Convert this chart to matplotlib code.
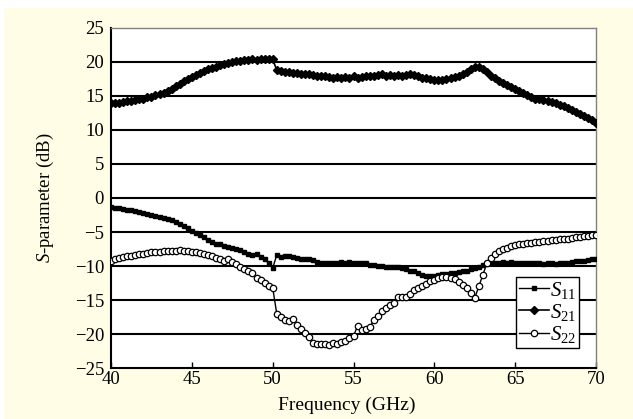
import numpy as np
import matplotlib
matplotlib.use('Agg')
import matplotlib.pyplot as plt
from matplotlib.patches import Rectangle

plt.rcParams['font.family'] = 'Liberation Serif'
plt.rcParams['mathtext.fontset'] = 'custom'
plt.rcParams['mathtext.rm'] = 'Liberation Serif'
plt.rcParams['mathtext.it'] = 'Liberation Serif:italic'

# frequency grid of the measurement (GHz), one point every 0.25 GHz
freq = np.arange(40.0, 70.001, 0.25)

s11 = [-1.3, -1.4, -1.5, -1.6, -1.7, -1.8, -1.9, -2.0, -2.2, -2.3,
       -2.5, -2.6, -2.8, -3.0, -3.1, -3.3, -3.5, -3.8, -4.1, -4.4,
       -4.8, -5.2, -5.5, -5.8, -6.2, -6.5, -6.7, -6.8, -7.0, -7.2,
       -7.3, -7.5, -7.7, -7.9, -8.2, -8.4, -8.3, -8.7, -9.0, -9.6,
       -10.3, -8.4, -8.7, -8.6, -8.6, -8.7, -8.8, -8.9, -8.9, -9.0,
       -9.1, -9.4, -9.5, -9.5, -9.6, -9.5, -9.5, -9.4, -9.5, -9.4,
       -9.5, -9.5, -9.6, -9.6, -9.8, -9.9, -10.0, -10.0, -10.1, -10.2,
       -10.2, -10.2, -10.3, -10.5, -10.7, -10.8, -11.0, -11.3, -11.4, -11.5,
       -11.4, -11.3, -11.2, -11.2, -11.1, -11.0, -10.9, -10.8, -10.7, -10.5,
       -10.3, -10.1, -9.9, -9.6, -9.5, -9.6, -9.5, -9.4, -9.5, -9.4,
       -9.5, -9.6, -9.5, -9.5, -9.6, -9.5, -9.6, -9.7, -9.6, -9.6,
       -9.7, -9.6, -9.5, -9.5, -9.4, -9.3, -9.3, -9.2, -9.1, -9.0,
       -8.9]

s21 = [13.9, 13.9, 14.0, 14.1, 14.2, 14.3, 14.4, 14.5, 14.6, 14.8,
       14.9, 15.1, 15.3, 15.5, 15.7, 16.0, 16.4, 16.8, 17.2, 17.5,
       17.8, 18.1, 18.4, 18.7, 18.9, 19.1, 19.3, 19.5, 19.7, 19.8,
       20.0, 20.2, 20.2, 20.3, 20.3, 20.4, 20.3, 20.4, 20.5, 20.5,
       20.4, 18.8, 18.7, 18.6, 18.5, 18.4, 18.4, 18.3, 18.2, 18.2,
       18.1, 18.0, 17.9, 17.9, 17.8, 17.7, 17.8, 17.6, 17.8, 17.7,
       17.9, 17.7, 17.8, 17.9, 17.9, 18.0, 18.1, 18.3, 18.0, 18.1,
       18.0, 18.1, 18.0, 18.1, 18.2, 18.1, 17.9, 17.7, 17.6, 17.5,
       17.4, 17.3, 17.4, 17.5, 17.6, 17.8, 18.0, 18.3, 18.6, 18.9,
       19.2, 19.2, 18.9, 18.5, 18.0, 17.6, 17.2, 16.9, 16.6, 16.3,
       16.0, 15.7, 15.4, 15.1, 14.8, 14.6, 14.5, 14.4, 14.3, 14.1,
       13.9, 13.7, 13.5, 13.2, 13.0, 12.7, 12.4, 12.1, 11.8, 11.4,
       11.0]

s22 = [-9.2, -9.0, -8.8, -8.7, -8.6, -8.5, -8.4, -8.3, -8.2, -8.1,
       -8.0, -7.9, -7.9, -7.8, -7.8, -7.8, -7.8, -7.7, -7.8, -7.8,
       -7.9, -8.0, -8.1, -8.2, -8.4, -8.5, -8.8, -8.9, -9.2, -9.0,
       -9.4, -9.7, -10.2, -10.4, -10.7, -11.1, -11.7, -12.0, -12.5, -13.0,
       -13.2, -17.0, -17.5, -17.9, -18.1, -17.8, -18.7, -19.3, -19.9, -20.5,
       -21.3, -21.4, -21.4, -21.5, -21.6, -21.3, -21.5, -21.2, -21.0, -20.6,
       -20.3, -18.8, -19.4, -19.3, -19.0, -18.0, -17.4, -16.6, -16.2, -15.8,
       -15.5, -14.6, -14.5, -14.6, -14.1, -13.5, -13.2, -12.9, -12.6, -12.2,
       -12.0, -11.8, -11.6, -11.6, -11.7, -11.9, -12.4, -12.8, -13.3, -13.9,
       -14.7, -13.0, -11.3, -9.6, -8.8, -8.2, -7.8, -7.5, -7.3, -7.1,
       -6.9, -6.8, -6.7, -6.6, -6.6, -6.5, -6.4, -6.3, -6.3, -6.2,
       -6.2, -6.1, -6.0, -6.0, -5.9, -5.8, -5.7, -5.6, -5.6, -5.5,
       -5.4]

xticks = [40, 45, 50, 55, 60, 65, 70]
yticks = [-25, -20, -15, -10, -5, 0, 5, 10, 15, 20, 25]

fig = plt.figure(figsize=(6.33, 4.19), dpi=100, facecolor='white')
# pale yellow panel behind the chart
fig.patches.append(Rectangle((4 / 633, 0), 1, 411 / 419, transform=fig.transFigure,
                             facecolor='#FFFDE6', edgecolor='none', zorder=-10))

ax = fig.add_axes([0.1754, 0.1217, 0.7662, 0.8115])
ax.set_facecolor('white')

ax.plot(freq, s11, color='black', lw=1, marker='s', ms=3.3, mfc='black', mec='black',
        label=r'$S_{\mathrm{11}}$', zorder=3)
ax.plot(freq, s21, color='black', lw=1.2, marker='D', ms=3.6, mfc='black', mec='black',
        label=r'$S_{\mathrm{21}}$', zorder=3)
ax.plot(freq, s22, color='black', lw=1, marker='o', ms=4.6, mfc='white', mec='black',
        mew=0.9, label=r'$S_{\mathrm{22}}$', zorder=4)

ax.set_xlim(40, 70)
ax.set_ylim(-25, 25)
ax.set_xticks(xticks)
ax.set_yticks(yticks)
for y in yticks[1:-1]:
    ax.axhline(y, color='black', lw=1.5, zorder=1)

ax.tick_params(axis='x', direction='in', length=4, width=1, labelsize=13.5, pad=2)
ax.tick_params(axis='y', length=0, labelsize=13.5, pad=5)
for side in ['top', 'right']:
    ax.spines[side].set_color('#808080')
    ax.spines[side].set_linewidth(1)
for side in ['left', 'bottom']:
    ax.spines[side].set_color('black')
    ax.spines[side].set_linewidth(1.5)

ax.set_xlabel('Frequency (GHz)', fontsize=14)
ax.xaxis.set_label_coords(0.485, -0.085)
ax.set_ylabel(r'$S$-parameter (dB)', fontsize=13.5)
ax.yaxis.set_label_coords(-0.113, 0.5)

leg = ax.legend(loc='lower right', bbox_to_anchor=(0.965, 0.059), fontsize=15,
                frameon=True, fancybox=False, framealpha=1, edgecolor='black',
                handlelength=1.4, handletextpad=0.05, borderpad=0.15, labelspacing=0.05,
                borderaxespad=0)
leg.get_frame().set_linewidth(1)
leg.set_zorder(5)

fig.savefig('out.png', dpi=100, facecolor=fig.get_facecolor())
